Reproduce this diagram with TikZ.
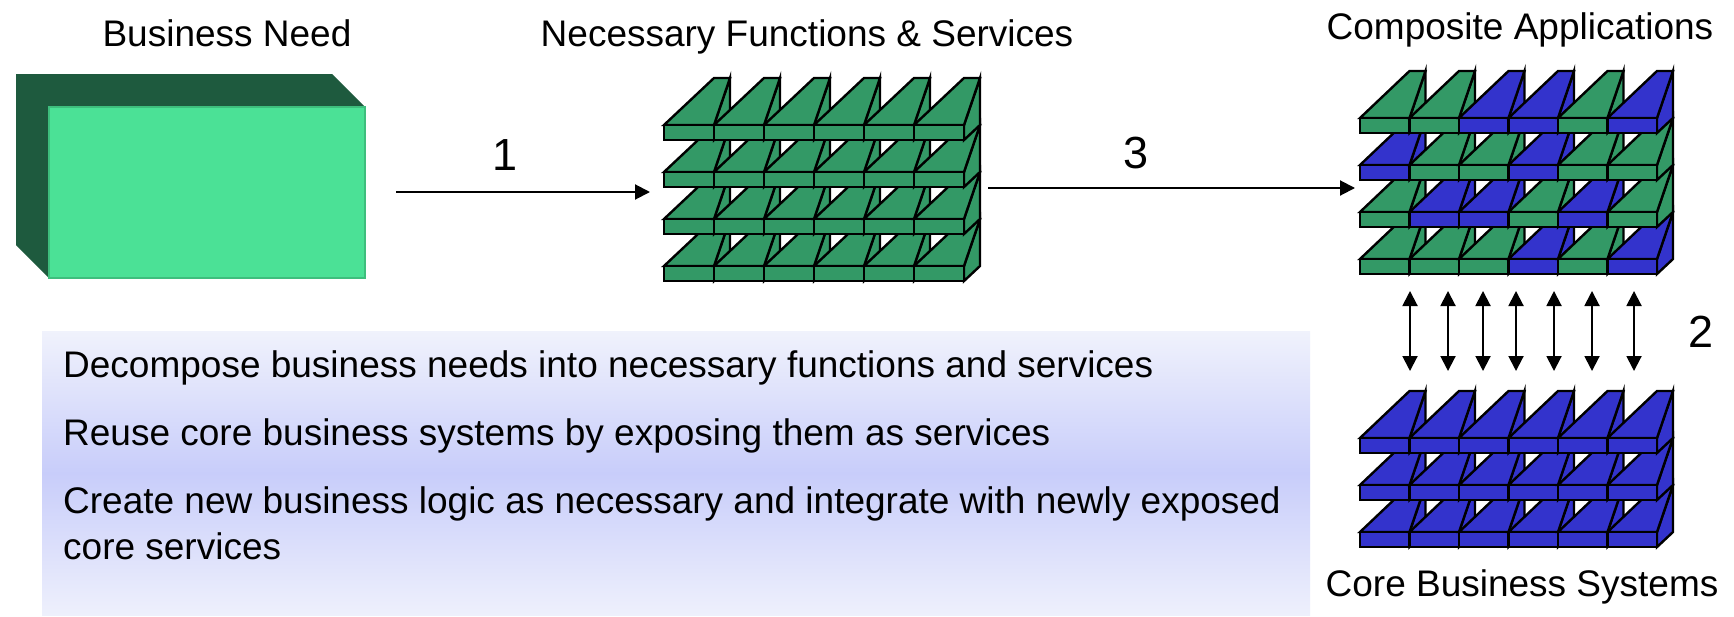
\documentclass[tikz,border=0pt]{standalone}
\usepackage{fontspec}
\setmainfont{Liberation Sans}
\usetikzlibrary{arrows.meta}
\definecolor{tgreen}{RGB}{51,153,102}
\definecolor{tblue}{RGB}{51,51,204}
\definecolor{bndark}{RGB}{30,90,62}
\definecolor{bnlight}{RGB}{75,225,150}
\definecolor{bnedge}{RGB}{62,190,125}
\definecolor{boxtop}{RGB}{240,242,252}
\definecolor{boxmid}{RGB}{200,205,250}
\definecolor{boxbot}{RGB}{238,240,252}
\def\tilew{50}
\def\tileh{15}
\def\tiledx{16}
\def\tiledy{47}
\newcommand{\drawtile}[3]{%
  \filldraw[tileline,fill=#3] (#1+\tilew,#2+\tileh) -- (#1+\tilew,#2) -- (#1+\tilew+\tiledx,#2-\tiledy) -- (#1+\tilew+\tiledx,#2) -- cycle;
  \filldraw[tileline,fill=#3] (#1,#2) -- (#1+\tilew,#2) -- (#1+\tilew+\tiledx,#2-\tiledy) -- (#1+\tilew,#2-\tiledy) -- cycle;
  \filldraw[tileline,fill=#3] (#1,#2) rectangle (#1+\tilew,#2+\tileh);
}
\tikzset{
  tileline/.style={draw=black, line width=2.4pt, line join=miter},
  txt/.style={font=\fontsize{37}{44}\selectfont, inner sep=0pt, text=black},
  numlbl/.style={font=\fontsize{45}{54}\selectfont, inner sep=0pt, text=black},
  arr/.style={line width=2pt, -{Triangle[length=15pt,width=15pt]}},
  darr/.style={line width=2pt, {Triangle[length=15pt,width=15pt]}-{Triangle[length=15pt,width=15pt]}},
}
\begin{document}
\begin{tikzpicture}[x=1pt,y=-1pt]
\useasboundingbox (0,0) rectangle (1734,616);
\fill[white] (0,0) rectangle (1734,616);

% Business need box
\fill[bndark] (16,74) -- (332,74) -- (364,106) -- (364,277) -- (48,277) -- (16,245) -- cycle;
\node[draw=bnedge, fill=bnlight, line width=1.5pt, minimum width=316pt, minimum height=171pt,
      anchor=north west, inner sep=0pt] (bn) at (48,106) {};

% Titles
\node[txt, anchor=base] (tneed) at (227,46) {Business Need};
\node[txt, anchor=base] (tfunc) at (807,46) {Necessary Functions \& Services};
\node[txt, anchor=base] (tcomp) at (1520,39) {Composite Applications};
\node[txt, anchor=base] (tcore) at (1522,596) {Core Business Systems};

% Green stack: necessary functions & services
\def\tilew{50}
\foreach \yy in {266,219,172,125} {
  \foreach \i in {0,...,5} {
    \drawtile{664+50*\i}{\yy}{tgreen}
  }
}

% Composite applications stack
\def\tilew{49.5}
\foreach \yy/\cols in {259/{tgreen,tgreen,tgreen,tblue,tgreen,tblue},
                       212/{tgreen,tblue,tblue,tgreen,tblue,tgreen},
                       165/{tblue,tgreen,tgreen,tblue,tgreen,tgreen},
                       118/{tgreen,tgreen,tblue,tblue,tgreen,tblue}} {
  \foreach \c [count=\i from 0] in \cols {
    \drawtile{1360+49.5*\i}{\yy}{\c}
  }
}

% Core business systems stack
\foreach \yy in {532,485,438} {
  \foreach \i in {0,...,5} {
    \drawtile{1360+49.5*\i}{\yy}{tblue}
  }
}

% Arrows
\coordinate (a1s) at (396,192);
\coordinate (a1e) at (650,192);
\draw[arr] (a1s) -- (a1e);
\node[numlbl, anchor=base] (l1) at (505,170) {1};

\coordinate (a3s) at (988,188);
\coordinate (a3e) at (1355,188);
\draw[arr] (a3s) -- (a3e);
\node[numlbl, anchor=base] (l3) at (1136,168) {3};

\foreach \xx [count=\k] in {1410,1448,1483,1516,1554,1592,1634} {
  \coordinate (d\k t) at (\xx,291);
  \coordinate (d\k b) at (\xx,371);
  \draw[darr] (d\k t) -- (d\k b);
}
\node[numlbl, anchor=base] (l2) at (1701,347) {2};

% Text box
\shade[top color=boxtop, bottom color=boxbot, middle color=boxmid] (42,331) rectangle (1310,615);
\node[txt, anchor=base west] (p1) at (63,377) {Decompose business needs into necessary functions and services};
\node[txt, anchor=base west] (p2) at (63,445) {Reuse core business systems by exposing them as services};
\node[txt, anchor=base west] (p3) at (63,513) {Create new business logic as necessary and integrate with newly exposed};
\node[txt, anchor=base west] (p4) at (63,559) {core services};
\end{tikzpicture}
\end{document}
